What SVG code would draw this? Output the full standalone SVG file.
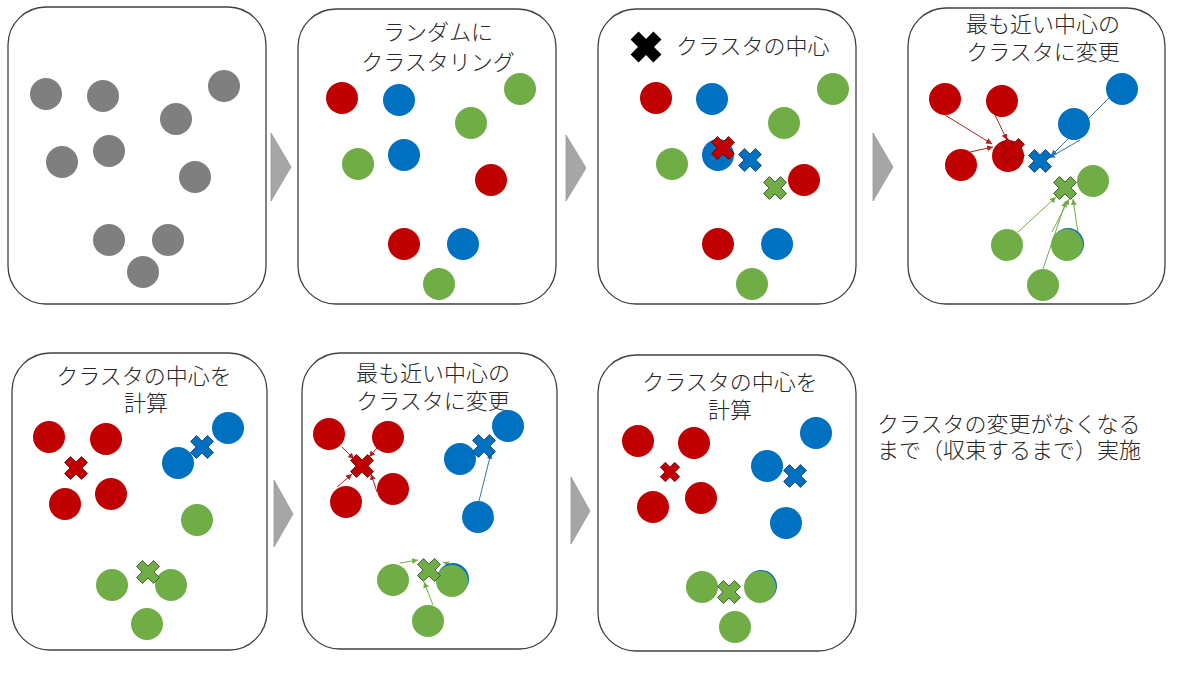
<svg xmlns="http://www.w3.org/2000/svg" xmlns:xlink="http://www.w3.org/1999/xlink" width="1200" height="675" viewBox="0 0 1200 675">
<style>
.box{fill:#fff;stroke:#404040;stroke-width:1.3}
.t{font-family:"Noto Sans CJK JP","Noto Sans",sans-serif;font-size:22px;font-weight:300;fill:#262626}
.m{text-anchor:middle}
.g0{fill:#7f7f7f}
.r{fill:#c00000}
.b{fill:#0070c0}
.g{fill:#70ad47}
.xr{fill:#c00000;stroke:#6b0000;stroke-width:0.8}
.xb{fill:#0070c0;stroke:#1f3a60;stroke-width:0.8}
.xg{fill:#70ad47;stroke:#2f4d1e;stroke-width:0.8}
.xk{fill:#000}
.tri{fill:#a6a6a6;stroke:#999;stroke-width:0.8}
.lr{stroke:#b02020;stroke-width:1;fill:none;marker-end:url(#ar)}
.lb{stroke:#2e75b6;stroke-width:1;fill:none;marker-end:url(#ab)}
.lg{stroke:#70ad47;stroke-width:1;fill:none;marker-end:url(#ag)}
</style>
<defs>
<path id="x" d="M-4.2,-12 H4.2 V-4.2 H12 V4.2 H4.2 V12 H-4.2 V4.2 H-12 V-4.2 H-4.2 Z" transform="rotate(45)"/>
<marker id="ar" viewBox="0 0 10 10" refX="10" refY="5" markerWidth="6" markerHeight="6" markerUnits="userSpaceOnUse" orient="auto"><path d="M0,0 L10,5 L0,10 Z" fill="#b02020"/></marker>
<marker id="ab" viewBox="0 0 10 10" refX="10" refY="5" markerWidth="6" markerHeight="6" markerUnits="userSpaceOnUse" orient="auto"><path d="M0,0 L10,5 L0,10 Z" fill="#2e75b6"/></marker>
<marker id="ag" viewBox="0 0 10 10" refX="10" refY="5" markerWidth="6" markerHeight="6" markerUnits="userSpaceOnUse" orient="auto"><path d="M0,0 L10,5 L0,10 Z" fill="#70ad47"/></marker>
</defs>
<rect width="1200" height="675" fill="#fff"/>

<g id="panel1">
<rect class="box" x="8" y="7" width="258" height="297" rx="38"/>
<g class="g0">
<circle cx="46" cy="94" r="16"/><circle cx="103" cy="96" r="16"/><circle cx="224" cy="86" r="16"/>
<circle cx="176" cy="119" r="16"/><circle cx="62" cy="162" r="16"/><circle cx="109" cy="151" r="16"/>
<circle cx="195" cy="177" r="16"/><circle cx="109" cy="240" r="16"/><circle cx="168" cy="240" r="16"/>
<circle cx="143" cy="272" r="16"/>
</g>
</g>

<g id="panel2">
<rect class="box" x="298" y="9" width="258" height="295" rx="38"/>
<text class="t m" x="438" y="40">ランダムに<tspan x="438" dy="30">クラスタリング</tspan></text>
<circle class="r" cx="342" cy="98" r="16"/><circle class="b" cx="399" cy="100" r="16"/>
<circle class="g" cx="520" cy="89" r="16"/><circle class="g" cx="471" cy="123" r="16"/>
<circle class="g" cx="358" cy="164" r="16"/><circle class="b" cx="404" cy="155" r="16"/>
<circle class="r" cx="491" cy="180" r="16"/><circle class="r" cx="404" cy="244" r="16"/>
<circle class="b" cx="463" cy="244" r="16"/><circle class="g" cx="439" cy="284" r="16"/>
</g>

<g id="panel3">
<rect class="box" x="598" y="9" width="258" height="295" rx="38"/>
<use xlink:href="#x" href="#x" class="xk" transform="translate(646,47) scale(1.35)"/>
<text class="t" x="676" y="54">クラスタの中心</text>
<circle class="r" cx="656" cy="98" r="16"/><circle class="b" cx="712" cy="99" r="16"/>
<circle class="g" cx="833" cy="89" r="16"/><circle class="g" cx="784" cy="123" r="16"/>
<circle class="g" cx="672" cy="164" r="16"/><circle class="b" cx="718" cy="155" r="16"/>
<circle class="r" cx="804" cy="180" r="16"/><circle class="r" cx="718" cy="244" r="16"/>
<circle class="b" cx="777" cy="244" r="16"/><circle class="g" cx="752" cy="284" r="16"/>
<use xlink:href="#x" href="#x" class="xr" transform="translate(723,148)"/>
<use xlink:href="#x" href="#x" class="xb" transform="translate(750,160)"/>
<use xlink:href="#x" href="#x" class="xg" transform="translate(775,188)"/>
</g>

<g id="panel4">
<rect class="box" x="908" y="8" width="257" height="296" rx="38"/>
<text class="t m" x="1043" y="32">最も近い中心の<tspan x="1043" dy="28">クラスタに変更</tspan></text>
<line class="lr" x1="945" y1="115" x2="992" y2="144"/>
<line class="lr" x1="995" y1="115" x2="1007" y2="140"/>
<line class="lr" x1="970" y1="152" x2="993" y2="147"/>
<line class="lb" x1="1112" y1="95" x2="1051" y2="156"/>
<line class="lb" x1="1080" y1="140" x2="1049" y2="158"/>
<line class="lg" x1="1018" y1="232" x2="1056" y2="197"/>
<line class="lg" x1="1052" y1="232" x2="1069" y2="199"/>
<line class="lg" x1="1078" y1="233" x2="1073" y2="199"/>
<line class="lg" x1="1043" y1="269" x2="1066" y2="201"/>
<circle class="r" cx="945" cy="99" r="16"/><circle class="r" cx="1002" cy="101" r="16"/>
<circle class="b" cx="1122" cy="89" r="16"/><circle class="b" cx="1074" cy="124" r="16"/>
<circle class="r" cx="961" cy="165" r="16"/><circle class="r" cx="1008" cy="156" r="16"/>
<circle class="g" cx="1093" cy="181" r="16"/><circle class="g" cx="1007" cy="245" r="16"/>
<circle class="b" cx="1068" cy="244" r="16"/><circle class="g" cx="1067" cy="245" r="16"/>
<circle class="g" cx="1043" cy="285" r="16"/>
<use xlink:href="#x" href="#x" class="xr" transform="translate(1013,150)"/>
<use xlink:href="#x" href="#x" class="xb" transform="translate(1040,161)"/>
<use xlink:href="#x" href="#x" class="xg" transform="translate(1065,188)"/>
</g>

<g id="panel5">
<rect class="box" x="12" y="353" width="255" height="297" rx="38"/>
<text class="t m" x="144" y="384">クラスタの中心を<tspan x="146" dy="27">計算</tspan></text>
<circle class="r" cx="49" cy="437" r="16"/><circle class="r" cx="106" cy="439" r="16"/>
<circle class="b" cx="228" cy="428" r="16"/><circle class="b" cx="178" cy="463" r="16"/>
<circle class="r" cx="65" cy="504" r="16"/><circle class="r" cx="111" cy="494" r="16"/>
<circle class="g" cx="197" cy="520" r="16"/><circle class="g" cx="112" cy="585" r="16"/>
<circle class="g" cx="171" cy="585" r="16"/><circle class="g" cx="147" cy="624" r="16"/>
<use xlink:href="#x" href="#x" class="xr" transform="translate(76,468)"/>
<use xlink:href="#x" href="#x" class="xb" transform="translate(202,447)"/>
<use xlink:href="#x" href="#x" class="xg" transform="translate(148,572)"/>
</g>

<g id="panel6">
<rect class="box" x="302" y="353" width="255" height="296" rx="38"/>
<text class="t m" x="433" y="381">最も近い中心の<tspan x="433" dy="28">クラスタに変更</tspan></text>
<line class="lr" x1="342" y1="447" x2="354" y2="459"/>
<line class="lr" x1="377" y1="448" x2="369" y2="457"/>
<line class="lr" x1="337" y1="487" x2="352" y2="474"/>
<line class="lr" x1="377" y1="492" x2="371" y2="474"/>
<line class="lb" x1="479" y1="501" x2="491" y2="453"/>
<line class="lg" x1="400" y1="563" x2="418" y2="560"/>
<line class="lg" x1="433" y1="605" x2="424" y2="582"/>
<line class="lg" x1="455" y1="567" x2="443" y2="562"/>
<circle class="r" cx="329" cy="434" r="16"/><circle class="r" cx="388" cy="437" r="16"/>
<circle class="b" cx="508" cy="426" r="16"/><circle class="b" cx="460" cy="459" r="16"/>
<circle class="r" cx="346" cy="502" r="16"/><circle class="r" cx="393" cy="489" r="16"/>
<circle class="b" cx="478" cy="517" r="16"/><circle class="g" cx="393" cy="580" r="16"/>
<circle class="b" cx="453" cy="579" r="16"/><circle class="g" cx="452" cy="581" r="16"/>
<circle class="g" cx="428" cy="621" r="16"/>
<use xlink:href="#x" href="#x" class="xr" transform="translate(362,466)"/>
<use xlink:href="#x" href="#x" class="xb" transform="translate(484,446)"/>
<use xlink:href="#x" href="#x" class="xg" transform="translate(429,570)"/>
</g>

<g id="panel7">
<rect class="box" x="598" y="355" width="258" height="296" rx="38"/>
<text class="t m" x="730" y="390">クラスタの中心を<tspan x="730" dy="28">計算</tspan></text>
<circle class="r" cx="638" cy="441" r="16"/><circle class="r" cx="694" cy="443" r="16"/>
<circle class="b" cx="816" cy="433" r="16"/><circle class="b" cx="767" cy="466" r="16"/>
<circle class="r" cx="653" cy="507" r="16"/><circle class="r" cx="701" cy="498" r="16"/>
<circle class="b" cx="786" cy="523" r="16"/><circle class="g" cx="702" cy="587" r="16"/>
<circle class="b" cx="761" cy="586" r="16"/><circle class="g" cx="760" cy="587" r="16"/>
<circle class="g" cx="735" cy="627" r="16"/>
<use xlink:href="#x" href="#x" class="xr" transform="translate(670,472) scale(0.85)"/>
<use xlink:href="#x" href="#x" class="xb" transform="translate(795,476)"/>
<use xlink:href="#x" href="#x" class="xg" transform="translate(729,592)"/>
</g>

<g id="note">
<text class="t" x="877" y="432">クラスタの変更がなくなる<tspan x="877" dy="26">まで（収束するまで）実施</tspan></text>
</g>

<g id="connectors">
<polygon class="tri" points="271,133 291,167 271,201"/>
<polygon class="tri" points="566,135 586,168 566,201"/>
<polygon class="tri" points="873,133 893,167 873,201"/>
<polygon class="tri" points="274,480 293,514 274,547"/>
<polygon class="tri" points="571,477 590,511 571,544"/>
</g>
</svg>
